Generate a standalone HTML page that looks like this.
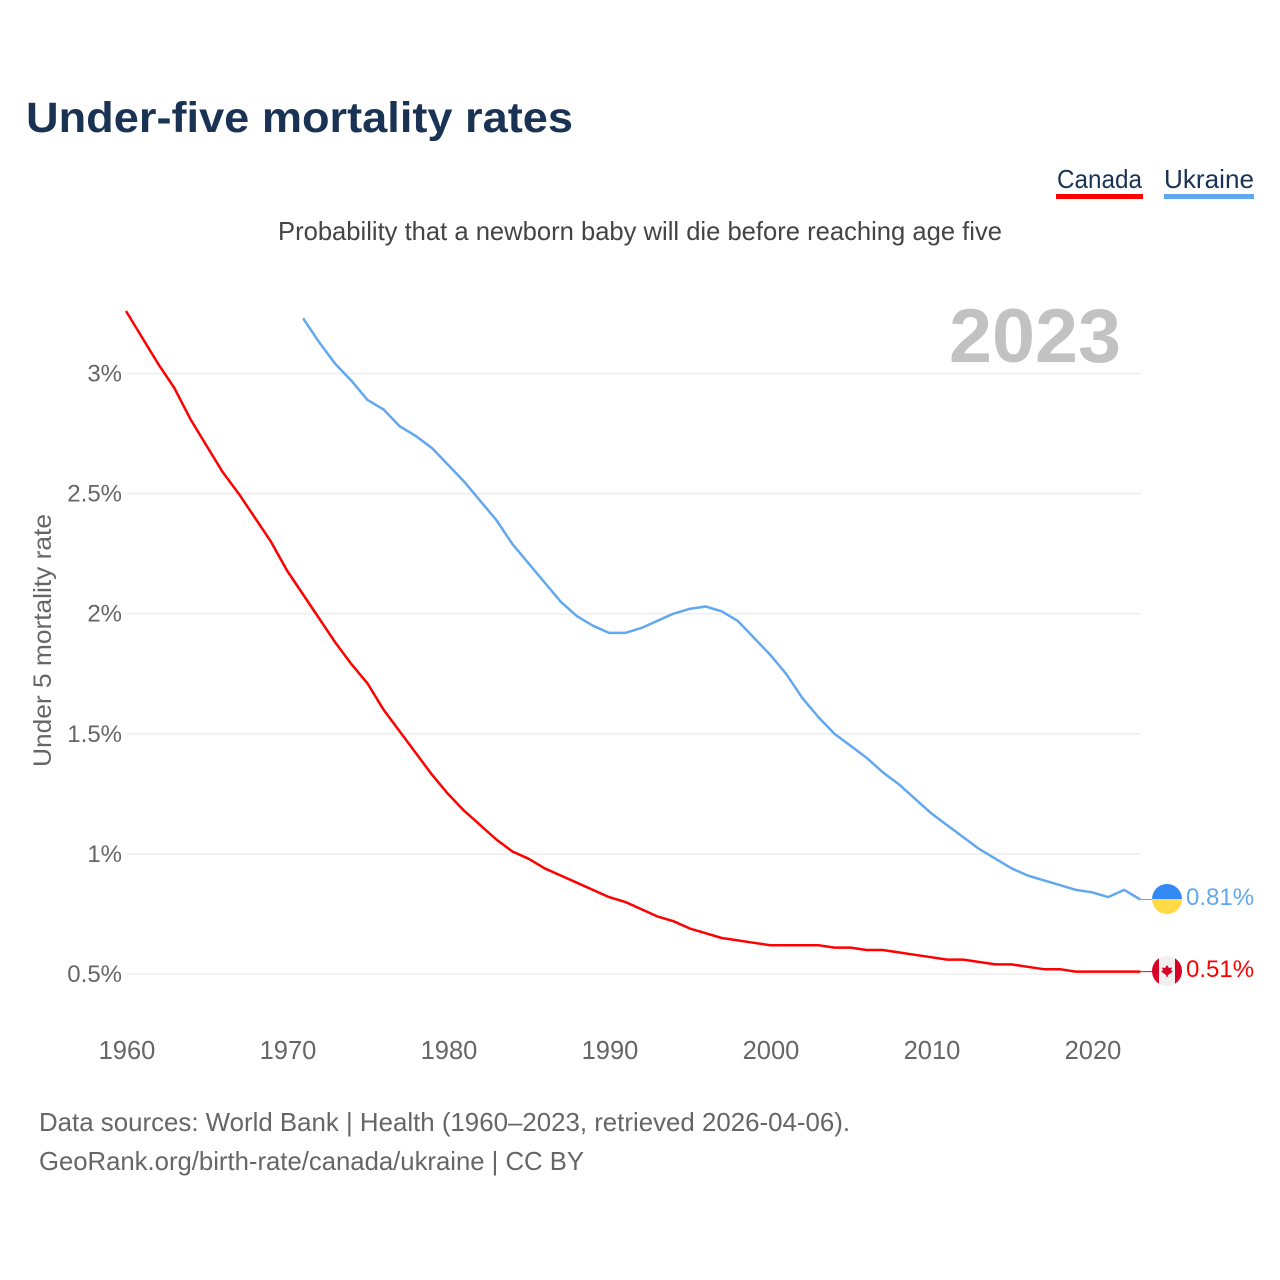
<!DOCTYPE html>
<html lang="en">
<head>
<meta charset="utf-8">
<title>Under-five mortality rates</title>
<style>
html,body{margin:0;padding:0;background:#fff}
svg{display:block;font-family:"Liberation Sans",sans-serif}
</style>
</head>
<body>
<svg id="chart" xmlns="http://www.w3.org/2000/svg" width="1280" height="1280" viewBox="0 0 1280 1280">
<defs>
<clipPath id="clip-ua"><circle cx="1167" cy="899" r="15"/></clipPath>
<clipPath id="clip-ca"><circle cx="1167" cy="971" r="15"/></clipPath>
</defs>
<rect width="1280" height="1280" fill="#fff"/>
<text x="26" y="132" font-size="43" font-weight="700" fill="#1a3354" textLength="547" lengthAdjust="spacingAndGlyphs">Under-five mortality rates</text>
<text x="278" y="240" font-size="26" fill="#444" textLength="724" lengthAdjust="spacingAndGlyphs">Probability that a newborn baby will die before reaching age five</text>
<g>
<text x="1057" y="188" font-size="26" fill="#1a3354" textLength="85" lengthAdjust="spacingAndGlyphs">Canada</text>
<rect x="1056" y="194" width="87" height="5" fill="#ff0000"/>
</g>
<g>
<text x="1164" y="188" font-size="26" fill="#1a3354" textLength="90" lengthAdjust="spacingAndGlyphs">Ukraine</text>
<rect x="1164" y="194" width="90" height="5" fill="#62a8ef"/>
</g>
<g id="grid"></g>
<g id="yticks"></g>
<g id="xticks"></g>
<text x="949" y="362" font-size="76" font-weight="700" fill="#c2c2c2" textLength="172" lengthAdjust="spacingAndGlyphs">2023</text>
<text transform="translate(51 767) rotate(-90)" font-size="25" fill="#666" textLength="253" lengthAdjust="spacingAndGlyphs">Under 5 mortality rate</text>
<g id="series"></g>
<g clip-path="url(#clip-ua)">
<rect x="1150" y="883" width="34" height="16" fill="#338af3"/>
<rect x="1150" y="899" width="34" height="16" fill="#ffda44"/>
</g>
<g clip-path="url(#clip-ca)">
<rect x="1150" y="955" width="34" height="32" fill="#f0f0f0"/>
<rect x="1150" y="955" width="9" height="32" fill="#d80027"/>
<rect x="1175" y="955" width="9" height="32" fill="#d80027"/>
<polygon points="1167,965 1169,968 1172,967.5 1171,970.5 1173,971.5 1168,975 1167.5,977 1166.5,977 1166,975 1161,971.5 1163,970.5 1162,967.5 1165,968" fill="#d80027"/>
</g>
<text id="label-ua" x="1186" y="905" font-size="24" fill="#62a8ef">0.81%</text>
<text id="label-ca" x="1186" y="977" font-size="24" fill="#ff0000">0.51%</text>
<text x="39" y="1131" font-size="26" fill="#666" textLength="811" lengthAdjust="spacingAndGlyphs">Data sources: World Bank | Health (1960–2023, retrieved 2026-04-06).</text>
<text x="39" y="1170" font-size="26" fill="#666" textLength="545" lengthAdjust="spacingAndGlyphs">GeoRank.org/birth-rate/canada/ukraine | CC BY</text>
</svg>
<script>
const canadaStartYear = 1960;
const ukraineStartYear = 1971;
const canadaValues = [3.26,3.15,3.04,2.94,2.81,2.70,2.59,2.50,2.40,2.30,2.18,2.08,1.98,1.88,1.79,1.71,1.60,1.51,1.42,1.33,1.25,1.18,1.12,1.06,1.01,0.98,0.94,0.91,0.88,0.85,0.82,0.80,0.77,0.74,0.72,0.69,0.67,0.65,0.64,0.63,0.62,0.62,0.62,0.62,0.61,0.61,0.60,0.60,0.59,0.58,0.57,0.56,0.56,0.55,0.54,0.54,0.53,0.52,0.52,0.51,0.51,0.51,0.51,0.51];
const ukraineValues = [3.23,3.13,3.04,2.97,2.89,2.85,2.78,2.74,2.69,2.62,2.55,2.47,2.39,2.29,2.21,2.13,2.05,1.99,1.95,1.92,1.92,1.94,1.97,2.00,2.02,2.03,2.01,1.97,1.90,1.83,1.75,1.65,1.57,1.50,1.45,1.40,1.34,1.29,1.23,1.17,1.12,1.07,1.02,0.98,0.94,0.91,0.89,0.87,0.85,0.84,0.82,0.85,0.81];
const yTickValues = [0.5,1,1.5,2,2.5,3];
const yTickLabels = ["0.5%","1%","1.5%","2%","2.5%","3%"];
const xTickYears = [1960,1970,1980,1990,2000,2010,2020];

const NS = "http://www.w3.org/2000/svg";
const xScale = year => 126 + (year - 1960) * 16.1;
const yScale = value => 974 - (value - 0.5) * 240.2;

function make(tag, parent, attrs, text) {
  const el = document.createElementNS(NS, tag);
  for (const k in attrs) el.setAttribute(k, attrs[k]);
  if (text !== undefined) el.textContent = text;
  parent.appendChild(el);
  return el;
}

const gridGroup = document.getElementById("grid");
const yGroup = document.getElementById("yticks");
const xGroup = document.getElementById("xticks");
const seriesGroup = document.getElementById("series");

yTickValues.forEach((v, i) => {
  const line = make("line", gridGroup, {x1: 127, x2: 1141, y1: yScale(v), y2: yScale(v), stroke: "#eeeeee", "stroke-width": 1.6});
  
  
  const label = make("text", yGroup, {x: 122, y: yScale(v) + 8, "text-anchor": "end", "font-size": 24, fill: "#666"}, yTickLabels[i]);
  
  
});

xTickYears.forEach(year => {
  const label = make("text", xGroup, {x: xScale(year) + 1, y: 1059, "text-anchor": "middle", "font-size": 25.5, fill: "#666"}, String(year));
  
  
});

function drawSeries(values, startYear, color) {
  const pts = values.map((v, i) => xScale(startYear + i).toFixed(1) + "," + yScale(v).toFixed(1)).join(" ");
  return make("polyline", seriesGroup, {points: pts, fill: "none", stroke: color, "stroke-width": 2.5, "stroke-linejoin": "round"});
}

const canadaLine = drawSeries(canadaValues, canadaStartYear, "#ff0000");


const ukraineLine = drawSeries(ukraineValues, ukraineStartYear, "#62a8ef");



const lastCanada = canadaValues[canadaValues.length - 1];
const lastUkraine = ukraineValues[ukraineValues.length - 1];
const endX = xScale(2023);
const connectorCa = make("line", seriesGroup, {x1: endX, x2: 1152, y1: yScale(lastCanada), y2: yScale(lastCanada), stroke: "#ff0000", "stroke-width": 1});


const connectorUa = make("line", seriesGroup, {x1: endX, x2: 1152, y1: yScale(lastUkraine), y2: yScale(lastUkraine), stroke: "#62a8ef", "stroke-width": 1});



document.getElementById("label-ca").textContent = lastCanada.toFixed(2) + "%";
document.getElementById("label-ua").textContent = lastUkraine.toFixed(2) + "%";
</script>
</body>
</html>
